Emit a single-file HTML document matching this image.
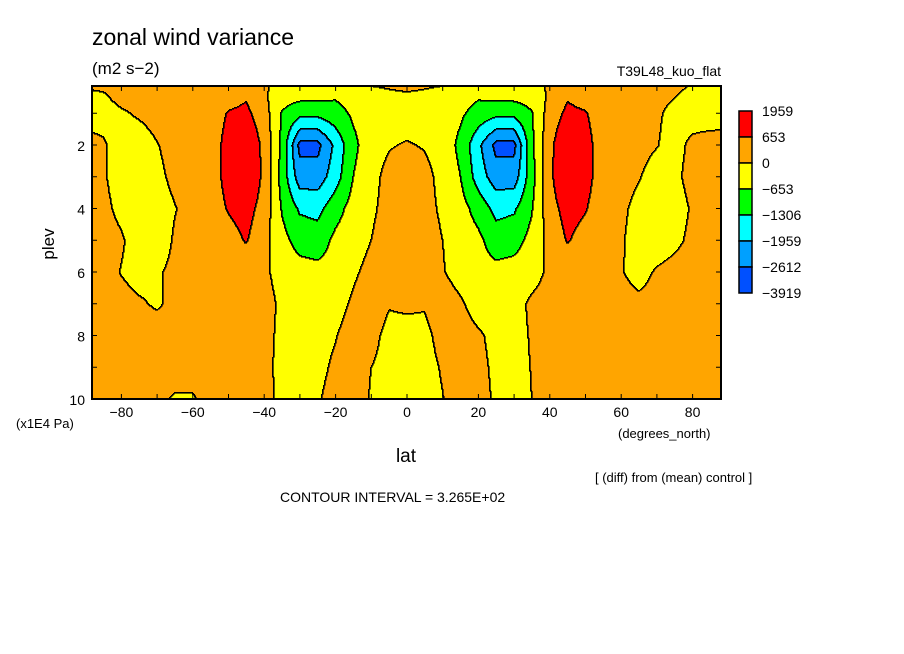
<!DOCTYPE html>
<html><head><meta charset="utf-8"><style>
body{margin:0;background:#fff;}
svg{display:block;font-family:"Liberation Sans",sans-serif;}
</style></head><body>
<svg id="chart" width="904" height="654" viewBox="0 0 904 654">
<rect x="0" y="0" width="904" height="654" fill="#fff"/>
<g id="field"></g>
<g id="lines"></g>
<g id="axes"></g>
<text x="92" y="45" font-size="23">zonal wind variance</text>
<text x="92" y="74" font-size="17">(m2 s−2)</text>
<text x="721" y="76" font-size="14" text-anchor="end">T39L48_kuo_flat</text>
<text x="54" y="244" font-size="17" text-anchor="middle" transform="rotate(-90 54 244)">plev</text>
<text x="16" y="428" font-size="13">(x1E4 Pa)</text>
<text x="618" y="438" font-size="13">(degrees_north)</text>
<text x="406" y="462" font-size="19" text-anchor="middle">lat</text>
<text x="595" y="482" font-size="13">[ (diff) from (mean) control ]</text>
<text x="280" y="502" font-size="14">CONTOUR INTERVAL = 3.265E+02</text>
<g id="legend"></g>
</svg>
<script>
const lats = [-90,-85,-80,-75,-70,-65,-60,-55,-50,-45,-40,-35,-30,-25,-20,-15,-10,-5,0,5,10,15,20,25,30,35,40,45,50,55,60,65,70,75,80,85,90];
const plevs = [0,0.5,1,2,3,4,5,6,7,8,9,10];
const row0 = [100,100,100,150,200,250,250,300,300,300,100,-200,-300,-300,-300,50,100,150, 200, 150,100,50,-150,-300,-300,-200,100,300,300,300,250,200,150,100,0,-100,-100];
const row05 = [-100,-50,100,150,200,250,250,300,400,600,100,-400,-500,-500,-600,-400,-250,-150, -100, -150,-250,-400,-600,-500,-500,-400,100,600,400,300,250,200,100,0,-100,-200,-200];
const row1 = [-200,-150,-50,50,150,200,250,300,700,800,300,-700,-1100,-1100,-900,-550,-400,-350, -300, -350,-400,-550,-900,-1100,-1100,-700,300,800,700,300,250,150,50,-100,-200,-250,-200];
const row2 = [150,50,-200,-200,-20,150,200,300,900,1200,500,-800,-2800,-2800,-1800,-800,-300,-50, 50, -50,-300,-800,-1800,-2800,-2800,-800,500,1200,900,300,250,150,20,-150,100,200,200];
const row3 = [200,50,-200,-250,-100,100,200,300,900,1300,500,-900,-2300,-2300,-1600,-650,-200,200, 400, 200,-200,-650,-1600,-2300,-2300,-900,500,1300,900,300,200,30,-200,-100,150,200,200];
const row4 = [200,100,-100,-300,-200,-20,150,300,700,900,400,-700,-1400,-1500,-900,-400,-100,200, 500, 200,-100,-400,-900,-1500,-1400,-700,400,900,700,250,100,-150,-250,-200,50,200,200];
const row5 = [200,150,50,-200,-250,50,150,250,400,700,200,-450,-900,-1000,-500,-300,0,300, 500, 300,0,-300,-500,-1000,-900,-450,200,700,400,250,50,-200,-250,-100,100,200,200];
const row6 = [200,200,-20,-150,-50,100,150,200,250,250,100,-200,-400,-450,-400,-100,200,400, 500, 400,50,-300,-400,-450,-400,-200,100,250,250,200,30,-150,50,150,200,200,200];
const row7 = [200,200,150,50,-50,100,150,200,200,250,200,-100,-300,-300,-250,100,400,50, 100, 50,400,100,-300,-300,-200,100,200,250,200,200,150,100,150,200,200,200,200];
const row8 = [200,200,200,200,200,200,200,200,200,200,200,-150,-300,-200,-30,300,200,-200, -200, -150,200,300,100,-200,-200,50,200,200,200,200,200,200,200,200,200,200,200];
const row9 = [200,200,200,200,200,200,200,200,200,200,200,-200,-250,-150,100,300,0,-200, -250, -200,50,300,200,-150,-200,20,200,200,200,200,200,200,200,200,200,200,200];
const row10 = [200,200,200,150,100,-50,-50,200,200,200,200,-150,-200,-50,200,300,-50,-250, -250, -200,-20,300,250,-100,-200,0,200,200,200,200,200,200,200,200,200,200,200];
const grid = [row0,row05,row1,row2,row3,row4,row5,row6,row7,row8,row9,row10];
const levels = [653,0,-653,-1306,-1959,-2612];
const colors = ["#ff0000","#ffa500","#ffff00","#00ff00","#00ffff","#00a0ff","#0050ff"];
const legendLabels = ["1959","653","0","-653","-1306","-1959","-2612","-3919"];
const xTickLabels = [-80,-60,-40,-20,0,20,40,60,80];
const yTickLabels = [2,4,6,8,10];

const NS="http://www.w3.org/2000/svg";
const PX0=92,PX1=721,PY0=86,PY1=399;
const xs = lat => 407 + lat*3.57;
const ys = p => 399 - (10-p)*31.75;
const latOf = x => (x-407)/3.57;
const pOf = y => 10 - (399-y)/31.75;
function interp(lat,p){
  let i=0; while(i<lats.length-2 && lat>lats[i+1]) i++;
  let j=0; while(j<plevs.length-2 && p>plevs[j+1]) j++;
  const tx=Math.min(1,Math.max(0,(lat-lats[i])/(lats[i+1]-lats[i])));
  const ty=Math.min(1,Math.max(0,(p-plevs[j])/(plevs[j+1]-plevs[j])));
  const a=grid[j][i],b=grid[j][i+1],c=grid[j+1][i],d=grid[j+1][i+1];
  return (a*(1-tx)+b*tx)*(1-ty)+(c*(1-tx)+d*tx)*ty;
}
function cls(v){ for(let k=0;k<levels.length;k++){ if(v>levels[k]) return k; } return levels.length; }
const W=PX1-PX0,H=PY1-PY0;
const C=[];
for(let y=0;y<H;y++){ const r=[]; const p=pOf(PY0+y+0.5); for(let x=0;x<W;x++) r.push(cls(interp(latOf(PX0+x+0.5),p))); C.push(r); }
const field=document.getElementById('field');
for(let y=0;y<H;y++){
  let start=0,cur=C[y][0];
  for(let x=1;x<=W;x++){
    const c = x<W ? C[y][x] : -1;
    if(c!==cur){
      const r=document.createElementNS(NS,'rect');
      r.setAttribute('x',PX0+start);r.setAttribute('y',PY0+y);
      r.setAttribute('width',x-start);r.setAttribute('height',1.05);
      r.setAttribute('fill',colors[cur]);
      
      
      field.appendChild(r);
      start=x;cur=c;
    }
  }
}
const linesG=document.getElementById('lines');
for(let y=0;y<H;y++){
  let start=-1;
  for(let x=0;x<=W;x++){
    let m=false;
    if(x<W){
      if(x+1<W && C[y][x+1]!==C[y][x]) m=true;
      if(y+1<H && C[y+1][x]!==C[y][x]) m=true;
    }
    if(m && start<0) start=x;
    if(!m && start>=0){
      const r=document.createElementNS(NS,'rect');
      r.setAttribute('x',PX0+start);r.setAttribute('y',PY0+y);
      r.setAttribute('width',Math.max(1.6,x-start));r.setAttribute('height',1.6);
      r.setAttribute('fill','#000');
      
      
      linesG.appendChild(r);
      start=-1;
    }
  }
}
const axes=document.getElementById('axes');
function line(x1,y1,x2,y2,w,name){
  const l=document.createElementNS(NS,'line');
  l.setAttribute('x1',x1);l.setAttribute('y1',y1);l.setAttribute('x2',x2);l.setAttribute('y2',y2);
  l.setAttribute('stroke','#000');l.setAttribute('stroke-width',w);
  
  
  axes.appendChild(l);
}
function text(x,y,s,anchor,size,name){
  const t=document.createElementNS(NS,'text');
  t.setAttribute('x',x);t.setAttribute('y',y);t.setAttribute('text-anchor',anchor);t.setAttribute('font-size',size);
  t.textContent=s;
  
  
  axes.appendChild(t);
}
const frame=document.createElementNS(NS,'rect');
frame.setAttribute('x',PX0);frame.setAttribute('y',PY0);frame.setAttribute('width',PX1-PX0);frame.setAttribute('height',PY1-PY0);
frame.setAttribute('fill','none');frame.setAttribute('stroke','#000');frame.setAttribute('stroke-width',2);


axes.appendChild(frame);
for(let lat=-80;lat<=80;lat+=10){
  line(xs(lat),PY1,xs(lat),PY1-5,1,'x-tick');
  line(xs(lat),PY0,xs(lat),PY0+5,1,'x-tick');
}
for(let p=1;p<=10;p+=1){
  line(PX0,ys(p),PX0+5,ys(p),1,'y-tick');
  line(PX1,ys(p),PX1-5,ys(p),1,'y-tick');
}
xTickLabels.forEach(v=>text(xs(v),417,v<0?'−'+Math.abs(v):String(v),'middle',14,'x-tick-label'));
yTickLabels.forEach(v=>text(85,ys(v)+6,String(v),'end',14,'y-tick-label'));
const legend=document.getElementById('legend');
colors.forEach((c,i)=>{
  const r=document.createElementNS(NS,'rect');
  r.setAttribute('x',739);r.setAttribute('y',111+i*26);r.setAttribute('width',13);r.setAttribute('height',26);
  r.setAttribute('fill',c);r.setAttribute('stroke','#000');r.setAttribute('stroke-width',1.5);
  
  
  legend.appendChild(r);
});
legendLabels.forEach((s,i)=>{
  const t=document.createElementNS(NS,'text');
  t.setAttribute('x',762);t.setAttribute('y',116+i*26);t.setAttribute('font-size',14);
  t.textContent=s.replace('-','−');
  
  
  legend.appendChild(t);
});
</script>
</body></html>
